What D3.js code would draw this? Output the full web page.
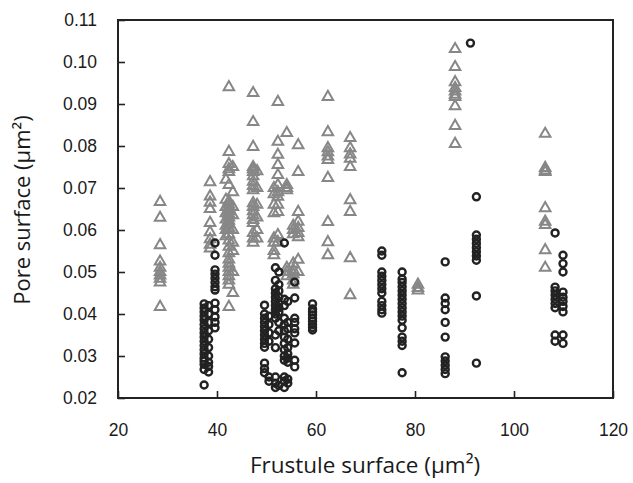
<!DOCTYPE html>
<html>
<head>
<meta charset="utf-8">
<script src="https://cdn.jsdelivr.net/npm/d3@7"></script>
<style>
  body { margin: 0; background: #fff; }
  svg { display: block; font-family: "Open Sans", "Noto Sans", sans-serif; }
</style>
</head>
<body>
<div id="chart"></div>
<script>
// Data: each column is one x value with its y values
const xTicks = [20, 40, 60, 80, 100, 120];
const yTicks = [0.02, 0.03, 0.04, 0.05, 0.06, 0.07, 0.08, 0.09, 0.10, 0.11];

const triangleColumns = [
    { x: 28.5, ys: [0.0667, 0.0629, 0.0564, 0.0525, 0.0510, 0.0500, 0.0492, 0.0484, 0.0475, 0.0417] },
    { x: 38.6, ys: [0.0714, 0.0680, 0.0665, 0.0650, 0.0617, 0.0595, 0.0578, 0.0565, 0.0556] },
    { x: 41.8, ys: [0.0720, 0.0672, 0.0655, 0.0640, 0.0625, 0.0610, 0.0600, 0.0585] },
    { x: 42.4, ys: [0.0940, 0.0786, 0.0757, 0.0745, 0.0738, 0.0707, 0.0668, 0.0660, 0.0652, 0.0645, 0.0638, 0.0630, 0.0622, 0.0615, 0.0605, 0.0590, 0.0575, 0.0560, 0.0545, 0.0530, 0.0520, 0.0510, 0.0500, 0.0490, 0.0480, 0.0470, 0.0417] },
    { x: 43.2, ys: [0.0750, 0.0690, 0.0655, 0.0635, 0.0600, 0.0570, 0.0550, 0.0500, 0.0450] },
    { x: 47.3, ys: [0.0926, 0.0857, 0.0798, 0.0750, 0.0745, 0.0738, 0.0728, 0.0715, 0.0705, 0.0695, 0.0664, 0.0655, 0.0645, 0.0635, 0.0624, 0.0617, 0.0593, 0.0580, 0.0570] },
    { x: 48.1, ys: [0.0740, 0.0700, 0.0660, 0.0630, 0.0600, 0.0580] },
    { x: 51.5, ys: [0.0700, 0.0685, 0.0660, 0.0640, 0.0580, 0.0570, 0.0550, 0.0540] },
    { x: 52.3, ys: [0.0905, 0.0810, 0.0779, 0.0755, 0.0731, 0.0707, 0.0690, 0.0679, 0.0660, 0.0643, 0.0588, 0.0571] },
    { x: 54.1, ys: [0.0831, 0.0707, 0.0695, 0.0700, 0.0510, 0.0500, 0.0490] },
    { x: 55.4, ys: [0.0610, 0.0600, 0.0590, 0.0520, 0.0505, 0.0495, 0.0480, 0.0470] },
    { x: 56.4, ys: [0.0802, 0.0738, 0.0643, 0.0620, 0.0605, 0.0593, 0.0583, 0.0529, 0.0500] },
    { x: 62.4, ys: [0.0917, 0.0833, 0.0795, 0.0785, 0.0775, 0.0767, 0.0724, 0.0619, 0.0571, 0.0540] },
    { x: 66.9, ys: [0.0819, 0.0795, 0.0780, 0.0770, 0.0750, 0.0671, 0.0643, 0.0533, 0.0445] },
    { x: 80.6, ys: [0.0470, 0.0462, 0.0456] },
    { x: 88.1, ys: [0.1031, 0.0988, 0.0952, 0.0938, 0.0930, 0.0922, 0.0917, 0.0895, 0.0848, 0.0805] },
    { x: 106.3, ys: [0.0829, 0.0748, 0.0742, 0.0738, 0.0652, 0.0620, 0.0612, 0.0552, 0.0510] }
];

const circleColumns = [
    { x: 37.4, ys: [0.0424, 0.0414, 0.0405, 0.0395, 0.0386, 0.0375, 0.0365, 0.0355, 0.0345, 0.0335, 0.0325, 0.0315, 0.0305, 0.0295, 0.0288, 0.0280, 0.0268, 0.0231] },
    { x: 38.3, ys: [0.0420, 0.0400, 0.0380, 0.0360, 0.0340, 0.0320, 0.0300, 0.0285, 0.0275, 0.0262] },
    { x: 39.6, ys: [0.0569, 0.0540, 0.0505, 0.0495, 0.0485, 0.0475, 0.0465, 0.0457, 0.0426, 0.0410, 0.0393, 0.0380, 0.0367] },
    { x: 49.6, ys: [0.0421, 0.0400, 0.0390, 0.0380, 0.0370, 0.0360, 0.0350, 0.0340, 0.0330, 0.0321, 0.0283, 0.0270, 0.0260] },
    { x: 50.5, ys: [0.0395, 0.0375, 0.0355, 0.0335, 0.0250, 0.0240] },
    { x: 51.8, ys: [0.0510, 0.0480, 0.0460, 0.0450, 0.0440, 0.0430, 0.0420, 0.0410, 0.0400, 0.0390, 0.0350, 0.0320, 0.0250, 0.0235, 0.0225] },
    { x: 52.5, ys: [0.0500, 0.0470, 0.0455, 0.0440, 0.0425, 0.0415, 0.0405, 0.0380, 0.0360, 0.0230] },
    { x: 53.6, ys: [0.0569, 0.0435, 0.0420, 0.0390, 0.0375, 0.0360, 0.0345, 0.0330, 0.0315, 0.0300, 0.0290, 0.0250, 0.0240, 0.0225] },
    { x: 54.3, ys: [0.0430, 0.0380, 0.0365, 0.0340, 0.0320, 0.0305, 0.0295, 0.0285, 0.0245, 0.0235] },
    { x: 55.7, ys: [0.0476, 0.0438, 0.0390, 0.0380, 0.0365, 0.0355, 0.0331, 0.0290, 0.0274] },
    { x: 59.3, ys: [0.0424, 0.0412, 0.0405, 0.0398, 0.0390, 0.0383, 0.0375, 0.0368, 0.0362] },
    { x: 73.3, ys: [0.0550, 0.0540, 0.0500, 0.0490, 0.0480, 0.0470, 0.0460, 0.0450, 0.0430, 0.0420, 0.0410, 0.0402] },
    { x: 77.4, ys: [0.0500, 0.0483, 0.0475, 0.0465, 0.0455, 0.0445, 0.0435, 0.0425, 0.0415, 0.0405, 0.0395, 0.0385, 0.0367, 0.0345, 0.0335, 0.0325, 0.0260] },
    { x: 86.1, ys: [0.0524, 0.0438, 0.0425, 0.0410, 0.0380, 0.0345, 0.0298, 0.0288, 0.0278, 0.0268, 0.0258] },
    { x: 91.2, ys: [0.1045] },
    { x: 92.4, ys: [0.0679, 0.0588, 0.0578, 0.0568, 0.0558, 0.0548, 0.0538, 0.0528, 0.0443, 0.0283] },
    { x: 108.3, ys: [0.0593, 0.0464, 0.0455, 0.0445, 0.0435, 0.0425, 0.0415, 0.0350, 0.0335] },
    { x: 109.9, ys: [0.0540, 0.0520, 0.0500, 0.0452, 0.0440, 0.0430, 0.0418, 0.0405, 0.0350, 0.0330] }
];

const flatten = cols => cols.flatMap(c => c.ys.map(y => ({ x: c.x, y })));
const triangles = flatten(triangleColumns);
const circles = flatten(circleColumns);

const width = 633, height = 483;
const margin = { top: 20, right: 20, bottom: 85, left: 118 };
const innerW = 613 - margin.left;
const innerH = 398 - margin.top;

const svg = d3.select("#chart").append("svg")
    .attr("width", width)
    .attr("height", height);

const g = svg.append("g").attr("transform", `translate(${margin.left},${margin.top})`);

const x = d3.scaleLinear().domain([20, 120]).range([0, innerW]);
const y = d3.scaleLinear().domain([0.02, 0.11]).range([innerH, 0]);

// Axes (ticks point inward)
const xAxis = g.append("g")
    .attr("transform", `translate(0,${innerH})`)
    .call(d3.axisBottom(x).tickValues(xTicks).tickSizeInner(-7).tickSizeOuter(0).tickPadding(26));

const yAxis = g.append("g")
    .call(d3.axisLeft(y).tickValues(yTicks).tickFormat(d3.format(".2f")).tickSizeInner(-7).tickSizeOuter(0).tickPadding(21));

[xAxis, yAxis].forEach(ax => {
    ax.select(".domain").remove();
    ax.selectAll(".tick line").attr("stroke", "#222").attr("stroke-width", 1.6);
    ax.selectAll(".tick text").attr("fill", "#1a1a1a").style("font-size", "17.5px");
});

// Frame
g.append("rect")
    .attr("width", innerW)
    .attr("height", innerH)
    .attr("fill", "none")
    .attr("stroke", "#222")
    .attr("stroke-width", 2);

// Gray triangles
const tri = d3.symbol().type(d3.symbolTriangle).size(48);
g.append("g").selectAll("path")
    .data(triangles)
    .join("path")
    .attr("d", tri)
    .attr("transform", d => `translate(${x(d.x)},${y(d.y)})`)
    .attr("fill", "none")
    .attr("stroke", "#878787")
    .attr("stroke-width", 2);

// Black circles
g.append("g").selectAll("circle")
    .data(circles)
    .join("circle")
    .attr("cx", d => x(d.x))
    .attr("cy", d => y(d.y))
    .attr("r", 3.5)
    .attr("fill", "none")
    .attr("stroke", "#222")
    .attr("stroke-width", 2.4);

// Axis titles
svg.append("text")
    .attr("x", 365)
    .attr("y", 473)
    .attr("text-anchor", "middle")
    .attr("fill", "#1a1a1a")
    .style("font-size", "22.5px")
    .text("Frustule surface (µm²)");

svg.append("text")
    .attr("transform", "translate(30,210) rotate(-90)")
    .attr("text-anchor", "middle")
    .attr("fill", "#1a1a1a")
    .style("font-size", "22px")
    .text("Pore surface (µm²)");
</script>
</body>
</html>
